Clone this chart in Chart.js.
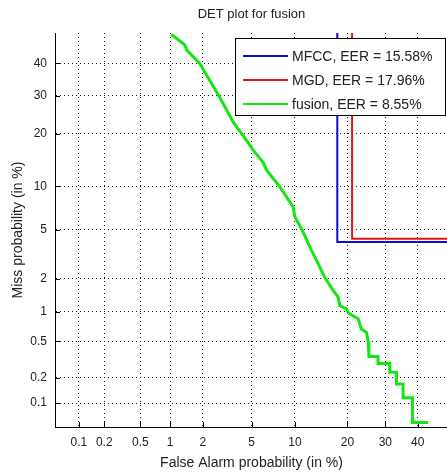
<!DOCTYPE html>
<html>
<head>
<meta charset="utf-8">
<script src="https://cdn.jsdelivr.net/npm/chart.js@4.4.1/dist/chart.umd.min.js"></script>
<style>
  html, body { margin: 0; padding: 0; background: #fff; overflow: hidden; }
  #wrap { position: absolute; left: 0; top: 0; width: 452px; height: 475px; }
</style>
</head>
<body>
<div id="wrap"><canvas id="detChart" width="452" height="475"></canvas></div>
<script>
// values in percent
const tickValues = [0.1, 0.2, 0.5, 1, 2, 5, 10, 20, 30, 40];
const seriesLabels = ['MFCC, EER = 15.58%', 'MGD, EER = 17.96%', 'fusion, EER = 8.55%'];

const mfccFA = [17.7, 17.7, 50];
const mfccMiss = [50, 4.04, 4.04];

const mgdFA = [21.1, 21.1, 50];
const mgdMiss = [50, 4.29, 4.29];

const fusionFA = [1.03, 1.38, 1.43, 1.88, 2.16, 2.75, 3.60, 4.58, 5.14, 6.08, 6.44, 7.96, 9.74, 10.0, 11.0,
    12.65, 13.55, 15.1, 16.8, 17.9, 18.25, 19.8, 20.2, 22.6, 23.4, 24.75, 25.2, 25.4, 27.9, 27.9, 31.3, 31.3,
    33.3, 33.3, 35.35, 35.35, 38.3, 38.3, 43.4];
const fusionMiss = [49.5, 46.0, 44.4, 40.0, 36.3, 30.0, 22.9, 18.5, 16.4, 14.0, 12.6, 9.93, 7.31, 6.21, 5.11,
    3.47, 2.88, 2.07, 1.58, 1.37, 1.14, 1.06, 0.97, 0.85, 0.67, 0.62, 0.50, 0.344, 0.344, 0.288, 0.288, 0.23,
    0.23, 0.169, 0.169, 0.116, 0.116, 0.057, 0.057];

const FONT = "'Liberation Sans', Arial, Helvetica, sans-serif";
const TEXT = '#222';

// inverse normal cdf (Acklam)
function probit(p) {
    const a = [-39.6968302866538, 220.946098424521, -275.928510446969, 138.357751867269, -30.6647980661472, 2.50662827745924];
    const b = [-54.4760987982241, 161.585836858041, -155.698979859887, 66.8013118877197, -13.2806815528857];
    const c = [-0.00778489400243029, -0.322396458041136, -2.40075827716184, -2.54973253934373, 4.37466414146497, 2.93816398269878];
    const d = [0.00778469570904146, 0.32246712907004, 2.445134137143, 3.75440866190742];
    const lo = 0.02425;
    if (p < lo) {
        const q = Math.sqrt(-2 * Math.log(p));
        return (((((c[0]*q+c[1])*q+c[2])*q+c[3])*q+c[4])*q+c[5]) / ((((d[0]*q+d[1])*q+d[2])*q+d[3])*q+1);
    }
    if (p > 1 - lo) {
        return -probit(1 - p);
    }
    const q = p - 0.5, r = q * q;
    return (((((a[0]*r+a[1])*r+a[2])*r+a[3])*r+a[4])*r+a[5])*q / (((((b[0]*r+b[1])*r+b[2])*r+b[3])*r+b[4])*r+1);
}

function normcdf(z) {
    const t = 1 / (1 + 0.3275911 * Math.abs(z) / Math.SQRT2);
    const y = 1 - (((((1.061405429*t - 1.453152027)*t) + 1.421413741)*t - 0.284496736)*t + 0.254829592)*t * Math.exp(-z*z/2);
    return z >= 0 ? (1 + y) / 2 : (1 - y) / 2;
}

// normal deviate scale, values given in percent
class ProbitScale extends Chart.Scale {
    determineDataLimits() {
        this.min = this.options.min;
        this.max = this.options.max;
    }
    buildTicks() {
        return tickValues.map(v => ({ value: v }));
    }
    getLabelForValue(v) {
        return String(v);
    }
    configure() {
        super.configure();
        this._startValue = probit(this.min / 100);
        this._valueRange = probit(this.max / 100) - this._startValue;
    }
    getPixelForValue(v) {
        return this.getPixelForDecimal((probit(v / 100) - this._startValue) / this._valueRange);
    }
    getValueForPixel(px) {
        return 100 * normcdf(this._startValue + this.getDecimalForPixel(px) * this._valueRange);
    }
}
ProbitScale.id = 'probit';
ProbitScale.defaults = {};
Chart.register(ProbitScale);

const toPoints = (xs, ys) => xs.map((x, i) => ({ x: x, y: ys[i] }));

const innerTicks = {
    id: 'innerTicks',
    beforeDatasetsDraw(chart) {
        const ctx = chart.ctx;
        const xs = chart.scales.x, ys = chart.scales.y;
        const area = chart.chartArea;
        ctx.save();
        ctx.strokeStyle = '#000';
        ctx.lineWidth = 1;
        ctx.beginPath();
        xs.ticks.forEach((t, i) => {
            const px = Math.round(xs.getPixelForTick(i)) + 0.5;
            ctx.moveTo(px, area.bottom);
            ctx.lineTo(px, area.bottom - 5);
        });
        ys.ticks.forEach((t, i) => {
            const py = Math.round(ys.getPixelForTick(i)) + 0.5;
            ctx.moveTo(area.left, py);
            ctx.lineTo(area.left + 5, py);
        });
        ctx.stroke();
        ctx.restore();
    }
};

const boxLegend = {
    id: 'boxLegend',
    afterDraw(chart) {
        const ctx = chart.ctx;
        const x0 = 235.5, y0 = 38.5, w = 210, h = 77;
        ctx.save();
        ctx.fillStyle = '#fff';
        ctx.fillRect(x0, y0, w, h);
        ctx.strokeStyle = '#000';
        ctx.lineWidth = 1;
        ctx.strokeRect(x0, y0, w, h);
        ctx.font = '14px ' + FONT;
        ctx.textBaseline = 'middle';
        ctx.fillStyle = TEXT;
        chart.data.datasets.forEach((ds, i) => {
            const y = 56 + i * 24;
            ctx.strokeStyle = ds.borderColor;
            ctx.lineWidth = 2;
            ctx.beginPath();
            ctx.moveTo(243, y);
            ctx.lineTo(288, y);
            ctx.stroke();
            ctx.fillText(ds.label, 292, y + 1);
        });
        ctx.restore();
    }
};

// grid lines get their dash from border.dash in v4, the axis line stays solid
const axisStyle = (title, pad) => ({
    type: 'probit',
    min: 0.05,
    max: 50,
    border: { display: true, color: '#000', width: 1, dash: [1, 3] },
    grid: { color: '#111', lineWidth: 1, drawTicks: false },
    ticks: {
        autoSkip: false,
        maxRotation: 0,
        padding: 8,
        color: TEXT,
        font: { family: FONT, size: 12 },
        callback: v => String(v)
    },
    title: {
        display: true,
        text: title,
        color: TEXT,
        font: { family: FONT, size: 14 },
        padding: pad
    }
});

const xAxis = axisStyle('False Alarm probability (in %)', { top: 0, bottom: 3.6 });
xAxis.position = 'bottom';
xAxis.afterFit = s => { s.height = 48; };

const yAxis = axisStyle('Miss probability (in %)', { top: 9.6, bottom: 0 });
yAxis.position = 'left';
yAxis.afterFit = s => { s.width = 55; };

new Chart(document.getElementById('detChart'), {
    type: 'line',
    data: {
        datasets: [
            { label: seriesLabels[0], data: toPoints(mfccFA, mfccMiss), borderColor: '#0b0bd6', borderWidth: 2 },
            { label: seriesLabels[1], data: toPoints(mgdFA, mgdMiss), borderColor: '#e31414', borderWidth: 2 },
            { label: seriesLabels[2], data: toPoints(fusionFA, fusionMiss), borderColor: '#14e614', borderWidth: 3 }
        ]
    },
    options: {
        responsive: false,
        animation: false,
        layout: { padding: { left: 0, right: 4, top: 0, bottom: 0 } },
        elements: { point: { radius: 0 }, line: { tension: 0, fill: false } },
        plugins: {
            legend: { display: false },
            tooltip: { enabled: false },
            title: {
                display: true,
                text: 'DET plot for fusion',
                fullSize: false,
                color: TEXT,
                font: { family: FONT, size: 13, weight: 'normal' },
                padding: { top: 7, bottom: 10.4 }
            }
        },
        scales: { x: xAxis, y: yAxis }
    },
    plugins: [innerTicks, boxLegend]
});
</script>
</body>
</html>
